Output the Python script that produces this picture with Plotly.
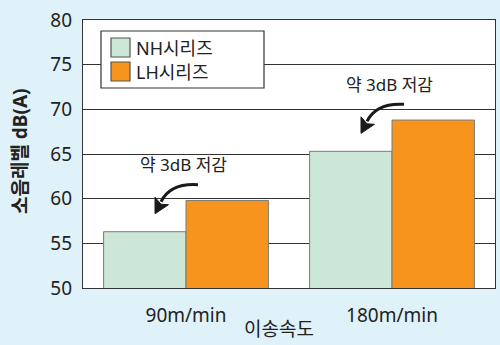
import plotly.graph_objects as go

categories = ["90m/min", "180m/min"]
series_names = ["NH시리즈", "LH시리즈"]
nh_values = [56.3, 65.3]
lh_values = [59.8, 68.8]
note_text = "약 3dB 저감"
y_title = "소음레벨 dB(A)"
x_title = "이송속도"
y_ticks = [50, 55, 60, 65, 70, 75, 80]

colors = ["#cce6d7", "#f7941e"]
bg = "#dff1f9"
FONT = "Noto Sans, Noto Sans CJK KR, sans-serif"

# plot area geometry (px)
L, R, T, B = 83, 5, 20, 57
W, H = 500, 345
PW, PH = W - L - R, H - T - B
Y0, Y1 = 50, 80


def px2paper(px, py):
    return (px - L) / PW, (T + PH - py) / PH


def data2px(idx, val):
    px = L + (idx + 0.5) / len(categories) * PW
    py = T + PH - (val - Y0) / (Y1 - Y0) * PH
    return px, py


fig = go.Figure()
for name, vals, col in zip(series_names, [nh_values, lh_values], colors):
    fig.add_trace(go.Bar(
        x=categories, y=vals, name=name,
        marker=dict(color=col, line=dict(color="#7a7a7a", width=1)),
        showlegend=False,
    ))

shapes = []
annotations = []

# annotations with curved arrows, anchored above the LH bar of each category
for i, v in enumerate(lh_values):
    cx, ty = data2px(i, v + 4)
    tx, tyy = px2paper(cx - 3, ty)
    annotations.append(dict(
        x=tx, y=tyy, xref="paper", yref="paper", text=note_text,
        showarrow=False, xanchor="center", yanchor="middle",
        font=dict(family=FONT, size=17, color="#222"),
    ))

    def P(dx, dy):
        x, y = px2paper(cx + dx, ty + dy)
        return f"{x:.5f},{y:.5f}"

    path = f"M {P(12, 20)} C {P(-4, 19)} {P(-18, 23)} {P(-25, 37)}"
    shapes.append(dict(type="path", path=path, xref="paper", yref="paper",
                       line=dict(color="#1a1a1a", width=3), layer="above"))
    head = f"M {P(-31, 49)} L {P(-17.5, 40)} L {P(-25, 39.5)} L {P(-31, 32.5)} Z"
    shapes.append(dict(type="path", path=head, xref="paper", yref="paper",
                       fillcolor="#1a1a1a", line=dict(color="#1a1a1a", width=1), layer="above"))

# legend box (manual, to match swatch size)
lx0, ly0 = px2paper(101, 31)
lx1, ly1 = px2paper(264, 88)
shapes.append(dict(type="rect", xref="paper", yref="paper", x0=lx0, y0=ly1, x1=lx1, y1=ly0,
                   fillcolor="white", line=dict(color="#333", width=1.2), layer="above"))
for k, (name, col) in enumerate(zip(series_names, colors)):
    sy0 = 38 + k * 24
    ax0, ay0 = px2paper(111, sy0)
    ax1, ay1 = px2paper(130, sy0 + 19)
    shapes.append(dict(type="rect", xref="paper", yref="paper", x0=ax0, y0=ay1, x1=ax1, y1=ay0,
                       fillcolor=col, line=dict(color="#555", width=1.2), layer="above"))
    tx, tyy = px2paper(134, sy0 + 10)
    annotations.append(dict(x=tx, y=tyy, xref="paper", yref="paper", text=name,
                            showarrow=False, xanchor="left", yanchor="middle",
                            font=dict(family=FONT, size=18, color="#222")))

# axis titles
tx, tyy = px2paper(279, 344)
annotations.append(dict(x=tx, y=tyy, xref="paper", yref="paper", text=x_title,
                        showarrow=False, xanchor="center", yanchor="bottom",
                        font=dict(family=FONT, size=19, color="#222")))
tx, tyy = px2paper(20, 151)
annotations.append(dict(x=tx, y=tyy, xref="paper", yref="paper", text=f"<b>{y_title}</b>",
                        showarrow=False, xanchor="center", yanchor="middle", textangle=-90,
                        font=dict(family=FONT, size=19, color="#222")))

fig.update_layout(
    width=W, height=H,
    margin=dict(l=L, r=R, t=T, b=B, pad=0),
    paper_bgcolor=bg, plot_bgcolor="white",
    barmode="group", bargap=0.2, bargroupgap=0,
    font=dict(family=FONT, size=19, color="#222"),
    shapes=shapes, annotations=annotations,
    showlegend=False,
)
fig.update_xaxes(showline=True, mirror=True, linecolor="#333", linewidth=1.2,
                 showgrid=False, ticks="", ticklabelstandoff=10,
                 tickfont=dict(family=FONT, size=19, color="#222"))
fig.update_yaxes(range=[Y0, Y1], tickvals=y_ticks, showline=True, mirror=True,
                 linecolor="#333", linewidth=1.2, showgrid=True, gridcolor="#333",
                 gridwidth=1, zeroline=False, ticks="", ticklabelstandoff=6,
                 tickfont=dict(family=FONT, size=19, color="#222"))

fig.write_html("out.html")
